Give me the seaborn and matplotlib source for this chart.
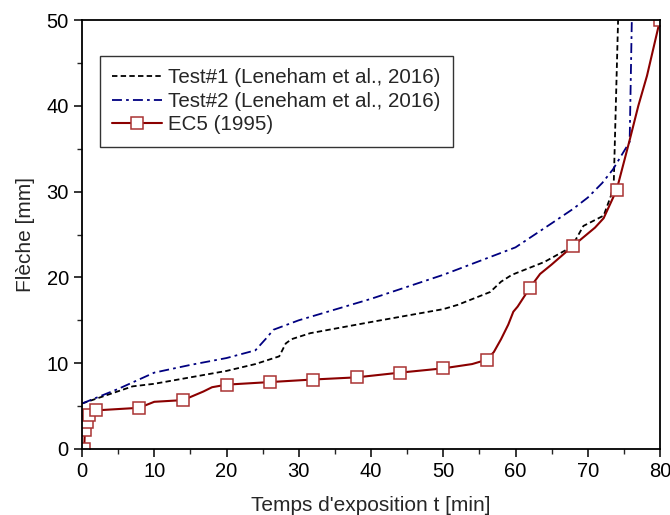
import matplotlib
matplotlib.use("Agg")
import matplotlib.pyplot as plt
import seaborn as sns
import pandas as pd
from matplotlib.ticker import MultipleLocator

# ---- data ----
t1_x = [0, 7, 10, 14, 20, 24, 27.3, 28.2, 29, 31.6, 40, 50, 52, 56.5, 58, 59.5, 64, 67, 68.2, 69.4, 72.2, 73.2, 73.6, 74.2, 74.3]
t1_y = [5.3, 7.3, 7.6, 8.2, 9.1, 9.9, 10.8, 12.3, 12.8, 13.5, 14.8, 16.3, 16.8, 18.3, 19.5, 20.3, 21.8, 23.2, 24.2, 26.0, 27.2, 29.5, 31.0, 50.0, 52.0]

t2_x = [0, 5, 10, 15, 20, 24, 25.5, 26.5, 30, 40, 50, 55, 60, 65, 68, 70, 72, 73.5, 75.8, 76.1, 76.2]
t2_y = [5.3, 7.0, 8.9, 9.8, 10.6, 11.5, 12.9, 13.9, 15.0, 17.5, 20.3, 21.9, 23.5, 26.3, 28.0, 29.3, 31.0, 32.6, 35.8, 50.0, 52.0]

ec5_x = [0.3, 0.4, 0.65, 0.9, 1.9, 7.9, 10.0, 14.0, 16.8, 18.0, 20.0, 26.0, 32.0, 38.0, 44.0, 50.0, 54.0, 56.0, 57.0, 58.0,
         59.0, 59.7, 60.3, 62.0, 63.4, 65.0, 68.0, 71.0, 72.2, 74.0, 75.8, 77.0, 78.2, 80.0]
ec5_y = [0.0, 2.2, 3.1, 4.0, 4.5, 4.8, 5.5, 5.7, 6.7, 7.2, 7.5, 7.8, 8.1, 8.35, 8.9, 9.4, 9.9, 10.4, 11.3, 12.8,
         14.5, 16.0, 16.6, 18.8, 20.4, 21.5, 23.7, 25.8, 26.9, 30.2, 36.0, 40.0, 43.5, 50.0]
ec5_markers = [0.3, 0.4, 0.65, 0.9, 1.9, 7.9, 14.0, 20.0, 26.0, 32.0, 38.0, 44.0, 50.0, 56.0, 62.0, 68.0, 74.0, 80.0]

labels = ["Test#1 (Leneham et al., 2016)", "Test#2 (Leneham et al., 2016)", "EC5 (1995)"]
x_ticks = [0, 10, 20, 30, 40, 50, 60, 70, 80]
y_ticks = [0, 10, 20, 30, 40, 50]

sns.set_theme(style="ticks")
plt.rcParams['font.family'] = ['Liberation Sans', 'DejaVu Sans']

fig = plt.figure(figsize=(6.7, 5.15), dpi=100)
ax = fig.add_axes([82/670, 66/515, 578/670, 429/515])

df1 = pd.DataFrame({"x": t1_x, "y": t1_y})
df2 = pd.DataFrame({"x": t2_x, "y": t2_y})
df3 = pd.DataFrame({"x": ec5_x, "y": ec5_y})
mk_idx = [ec5_x.index(v) for v in ec5_markers]

sns.lineplot(data=df1, x="x", y="y", ax=ax, sort=False, estimator=None, color="black",
             lw=1.3, dashes=False, linestyle=(0, (3.0, 1.8)), label=labels[0])
sns.lineplot(data=df2, x="x", y="y", ax=ax, sort=False, estimator=None, color="#000080",
             lw=1.3, dashes=False, linestyle=(0, (5.5, 2.3, 1.5, 2.3)), label=labels[1])
sns.lineplot(data=df3, x="x", y="y", ax=ax, sort=False, estimator=None, color="#8b0000",
             lw=1.5, marker="s", markersize=8, markerfacecolor="white", markeredgecolor="#aa3333",
             markeredgewidth=1.1, markevery=mk_idx, label=labels[2])

ax.set_xlim(0, 80)
ax.set_ylim(0, 50)
ax.set_xticks(x_ticks)
ax.set_yticks(y_ticks)
ax.xaxis.set_minor_locator(MultipleLocator(5))
ax.yaxis.set_minor_locator(MultipleLocator(5))
ax.tick_params(which="major", direction="out", length=6, width=1.1, labelsize=14.5, colors="black")
ax.tick_params(which="minor", direction="out", length=3.5, width=1.0)
for s in ax.spines.values():
    s.set_visible(True)
    s.set_linewidth(1.3)
    s.set_color("black")

ax.set_xlabel("Temps d'exposition t [min]", fontsize=15, labelpad=11)
ax.set_ylabel("Flèche [mm]", fontsize=15, labelpad=8)

leg = ax.legend(loc="upper left", bbox_to_anchor=(18/578, 1 - 36/429), fontsize=14.8,
                frameon=True, fancybox=False, edgecolor="black", handlelength=2.4,
                borderpad=0.6, labelspacing=0.22, handletextpad=0.3, borderaxespad=0)
leg.get_frame().set_linewidth(1.0)

fig.savefig("out.png", dpi=100)
